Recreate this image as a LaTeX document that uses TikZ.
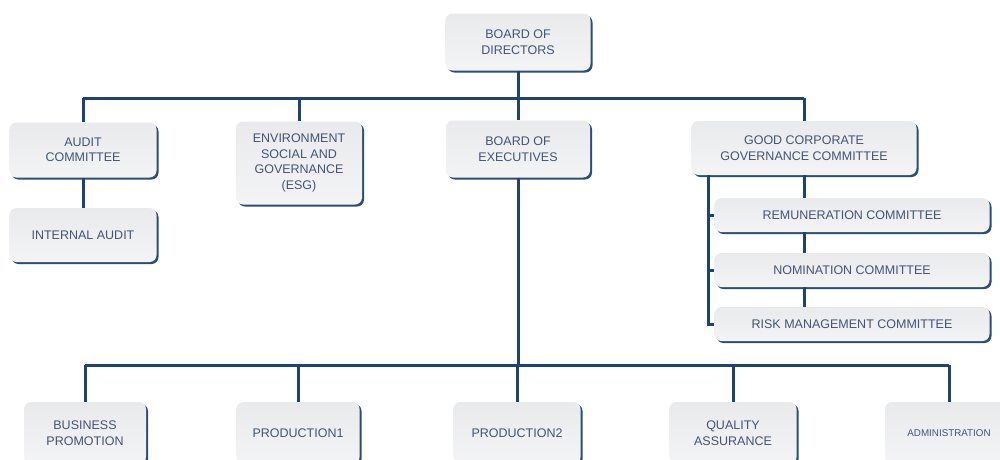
\documentclass[tikz,border=0pt]{standalone}
\usepackage{fontspec}
\setmainfont{Liberation Sans}
\usetikzlibrary{shadows}
\definecolor{linenavy}{HTML}{1F4472}
\definecolor{txtslate}{HTML}{3F5578}
\definecolor{boxgray}{HTML}{E2E3E6}
\def\largeur{1000}
\def\hauteur{459}

\begin{document}
\begin{tikzpicture}[x=1pt, y=-1pt,
    box/.style={rounded corners=7pt, top color=boxgray!75, bottom color=boxgray!40,
        draw=none, text=txtslate, align=center,
        font=\fontsize{12.5}{15.5}\selectfont,
        drop shadow={shadow xshift=2pt, shadow yshift=-2pt, fill=linenavy, opacity=.95}},
    link/.style={draw=linenavy, line width=3pt}]
    \useasboundingbox (0,0) rectangle (\largeur,\hauteur);
    \clip (0,0) rectangle (\largeur,\hauteur);
%\draw[step=50, line width=0.1mm, black!20!white] (0,0) grid (\largeur,\hauteur);

    % top
    \node[box, minimum width=145, minimum height=57] (bod) at (518,42) {BOARD OF\\DIRECTORS};
    \coordinate (bus1) at (518,98);

    % second row
    \node[box, minimum width=147, minimum height=55] (audit) at (83,150) {AUDIT\\COMMITTEE};
    \node[box, minimum width=147, minimum height=54] (internal) at (83,235) {INTERNAL AUDIT};
    \node[box, minimum width=126, minimum height=83] (esg) at (299,163) {ENVIRONMENT\\SOCIAL AND\\GOVERNANCE\\(ESG)};
    \node[box, minimum width=144, minimum height=57] (boe) at (518,149) {BOARD OF\\EXECUTIVES};
    \node[box, minimum width=225, minimum height=54] (gcg) at (804,148) {GOOD CORPORATE\\GOVERNANCE COMMITTEE};

    % committees under gcg
    \node[box, minimum width=275, minimum height=34] (remun) at (852,215) {REMUNERATION COMMITTEE};
    \node[box, minimum width=275, minimum height=34] (nomin) at (852,270) {NOMINATION COMMITTEE};
    \node[box, minimum width=275, minimum height=34] (risk) at (852,324) {RISK MANAGEMENT COMMITTEE};
    \coordinate (spine) at (708,175);

    % bottom row
    \coordinate (bus2) at (518,365);
    \node[box, minimum width=122, minimum height=62] (busprom) at (85,433) {BUSINESS\\PROMOTION};
    \node[box, minimum width=123, minimum height=62] (prod1) at (298,433) {PRODUCTION1};
    \node[box, minimum width=127, minimum height=62] (prod2) at (517,433) {PRODUCTION2};
    \node[box, minimum width=127, minimum height=62] (qa) at (733,433) {QUALITY\\ASSURANCE};
    \node[box, minimum width=128, minimum height=62, font=\fontsize{9.8}{12}\selectfont] (admin) at (949,433) {ADMINISTRATION};

    % links
    \draw[link] (bod.south) -- (bus1);
    \draw[link] (audit.north |- bus1) -- (gcg.north |- bus1);
    \foreach \n in {audit,esg,boe,gcg}
        \draw[link] (\n.north) -- (\n.north |- bus1);
    \draw[link] (audit) -- (internal);
    \draw[link] (gcg.south) -- (gcg.south |- remun.north);
    \draw[link] (remun.south -| gcg.south) -- (nomin.north -| gcg.south);
    \draw[link] (nomin.south -| gcg.south) -- (risk.north -| gcg.south);
    \draw[link] (spine) |- (risk.west);
    \draw[link] (spine |- remun.west) -- (remun.west);
    \draw[link] (spine |- nomin.west) -- (nomin.west);
    \draw[link] (boe.south) -- (bus2);
    \draw[link] (busprom.north |- bus2) -- (admin.north |- bus2);
    \foreach \n in {busprom,prod1,prod2,qa,admin}
        \draw[link] (\n.north) -- (\n.north |- bus2);
\end{tikzpicture}
\end{document}
